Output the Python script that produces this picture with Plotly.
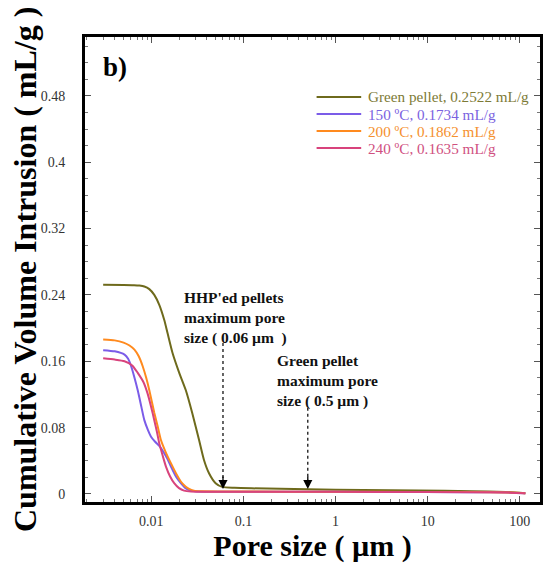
import math
import plotly.graph_objects as go

# Pore size (µm) and cumulative intrusion (mL/g) for each sample
green_x = [0.003, 0.005, 0.0065, 0.00743, 0.0084, 0.00951, 0.01077, 0.0122, 0.0138, 0.0150,
           0.0170, 0.0201, 0.0237, 0.0279, 0.0330, 0.0373, 0.0423, 0.0499, 0.0588, 0.08,
           0.123, 0.5, 2.0, 8.0, 30.0, 70.0, 115.0]
green_y = [0.2522, 0.2521, 0.2518, 0.2513, 0.2502, 0.247, 0.240, 0.228, 0.210, 0.194,
           0.170, 0.146, 0.125, 0.097, 0.065, 0.041, 0.025, 0.013, 0.0085, 0.0074,
           0.0068, 0.0056, 0.0048, 0.0042, 0.0034, 0.0024, 0.001]

t150_x = [0.003, 0.004, 0.00512, 0.0056, 0.00604, 0.0065, 0.00712, 0.0078, 0.0084, 0.0092,
          0.00993, 0.011, 0.0122, 0.0135, 0.015, 0.01633, 0.0185, 0.02091, 0.0235, 0.02682,
          0.032, 0.06, 0.3, 3.0, 30.0, 80.0, 115.0]
t150_y = [0.1734, 0.172, 0.168, 0.163, 0.154, 0.142, 0.125, 0.105, 0.089, 0.077,
          0.069, 0.063, 0.058, 0.051, 0.042, 0.033, 0.021, 0.013, 0.007, 0.004,
          0.003, 0.0027, 0.0026, 0.0025, 0.0022, 0.0016, 0.001]

t200_x = [0.003, 0.004, 0.005, 0.0058, 0.00656, 0.0073, 0.00806, 0.0088, 0.00951, 0.01077,
          0.0117, 0.01272, 0.0145, 0.01633, 0.0185, 0.02091, 0.0235, 0.0257, 0.029, 0.035,
          0.06, 0.3, 3.0, 30.0, 80.0, 115.0]
t200_y = [0.1862, 0.1852, 0.1825, 0.179, 0.174, 0.166, 0.154, 0.140, 0.125, 0.098,
          0.082, 0.065, 0.049, 0.037, 0.025, 0.015, 0.009, 0.006, 0.004, 0.0032,
          0.003, 0.0028, 0.0026, 0.0023, 0.0017, 0.001]

t240_x = [0.003, 0.004, 0.00512, 0.0062, 0.00712, 0.0082, 0.00912, 0.01, 0.01077, 0.0115,
          0.0122, 0.0133, 0.01442, 0.016, 0.01772, 0.02, 0.02269, 0.027, 0.06, 0.3,
          3.0, 30.0, 80.0, 115.0]
t240_y = [0.1635, 0.162, 0.160, 0.155, 0.146, 0.135, 0.121, 0.104, 0.089, 0.075,
          0.061, 0.046, 0.033, 0.021, 0.013, 0.007, 0.004, 0.003, 0.0027, 0.0026,
          0.0025, 0.0022, 0.0016, 0.001]

names = ["Green pellet, 0.2522 mL/g", "150 \u00baC, 0.1734 mL/g",
         "200 \u00baC, 0.1862 mL/g", "240 \u00baC, 0.1635 mL/g"]
xs_all = [green_x, t150_x, t200_x, t240_x]
ys_all = [green_y, t150_y, t200_y, t240_y]
line_colors = ["#6e6a1c", "#7b5ce8", "#ff8a1e", "#d8437c"]
label_colors = ["#7d7a36", "#7b63df", "#f5902e", "#d0507f"]

# Maximum pore sizes marked with dotted arrows (µm)
hhp_max_pore = 0.06
green_max_pore = 0.5

FONT = "Liberation Serif"

fig = go.Figure()
for name, xs, ys, color in zip(names, xs_all, ys_all, line_colors):
    fig.add_trace(go.Scatter(
        x=xs, y=ys, mode="lines", name=name, showlegend=False,
        line=dict(color=color, width=2, shape="spline", smoothing=0.6),
    ))

# Key in the upper right: short coloured line plus coloured label
key_x0, key_x1, key_text_x = 0.509, 0.607, 0.618
key_y0, key_dy = 0.871, 0.0366
for i, (name, color, tcolor) in enumerate(zip(names, line_colors, label_colors)):
    ky = key_y0 - i * key_dy
    fig.add_shape(type="line", xref="paper", yref="paper",
                  x0=key_x0, x1=key_x1, y0=ky, y1=ky,
                  line=dict(color=color, width=2))
    fig.add_annotation(x=key_text_x, y=ky, xref="paper", yref="paper",
                       xanchor="left", yanchor="middle", showarrow=False,
                       text=name, font=dict(family=FONT, size=15.2, color=tcolor))

# Dotted leader lines for the two pore-size markers
for xv, ytop in [(hhp_max_pore, 0.182), (green_max_pore, 0.104)]:
    fig.add_trace(go.Scatter(
        x=[xv, xv], y=[ytop, 0.012], mode="lines", showlegend=False,
        line=dict(color="black", width=1.2, dash="dot"), hoverinfo="skip",
    ))
    fig.add_annotation(
        x=math.log10(xv), y=0.006, xref="x", yref="y",
        ax=0, ay=-14, axref="pixel", ayref="pixel",
        showarrow=True, arrowhead=2, arrowsize=1.4, arrowwidth=1.3,
        arrowcolor="black", text="",
    )

fig.add_annotation(
    x=math.log10(0.0213), y=0.250, xref="x", yref="y",
    xanchor="left", yanchor="top", align="left", showarrow=False,
    text="<b>HHP'ed pellets<br>maximum pore<br>size ( 0.06 \u00b5m  )</b>",
    font=dict(family=FONT, size=15.5, color="#111"),
)
fig.add_annotation(
    x=math.log10(0.219), y=0.173, xref="x", yref="y",
    xanchor="left", yanchor="top", align="left", showarrow=False,
    text="<b>Green pellet<br>maximum pore<br>size ( 0.5 \u00b5m )</b>",
    font=dict(family=FONT, size=15.5, color="#111"),
)
fig.add_annotation(
    x=0.035, y=0.935, xref="paper", yref="paper",
    xanchor="left", yanchor="middle", showarrow=False,
    text="<b>b)</b>", font=dict(family=FONT, size=27, color="black"),
)

# Vertical axis title, placed beside the tick labels
fig.add_annotation(
    x=-0.133, y=0.5, xref="paper", yref="paper",
    xanchor="center", yanchor="middle", showarrow=False, textangle=-90,
    text="<b>Cumulative Volume Intrusion ( mL/g )</b>",
    font=dict(family=FONT, size=32, color="black"),
)

axis_common = dict(
    showline=True, linecolor="black", linewidth=3, mirror="allticks",
    ticks="inside", tickcolor="#555", ticklen=6, tickwidth=1,
    showgrid=False, zeroline=False,
    tickfont=dict(family=FONT, size=14, color="#333"),
)

fig.update_xaxes(
    type="log", range=[-2.72, 2.22], dtick=1, ticklabelstandoff=4,
    title=dict(text="<b>Pore size ( \u00b5m )</b>", font=dict(family=FONT, size=30, color="black"), standoff=6),
    minor=dict(ticks="inside", ticklen=3, tickcolor="#777", dtick="D1"),
    **axis_common,
)
fig.update_yaxes(
    range=[-0.0097, 0.551], dtick=0.08, tick0=0, ticksuffix="\u00a0" * 4,
    minor=dict(ticks="inside", ticklen=3, tickcolor="#777", dtick=0.02),
    **axis_common,
)

fig.update_layout(
    width=547, height=567,
    margin=dict(l=85, r=4, t=37, b=65),
    paper_bgcolor="white", plot_bgcolor="white",
    font=dict(family=FONT),
    showlegend=False,
)

fig.write_html("out.html")
